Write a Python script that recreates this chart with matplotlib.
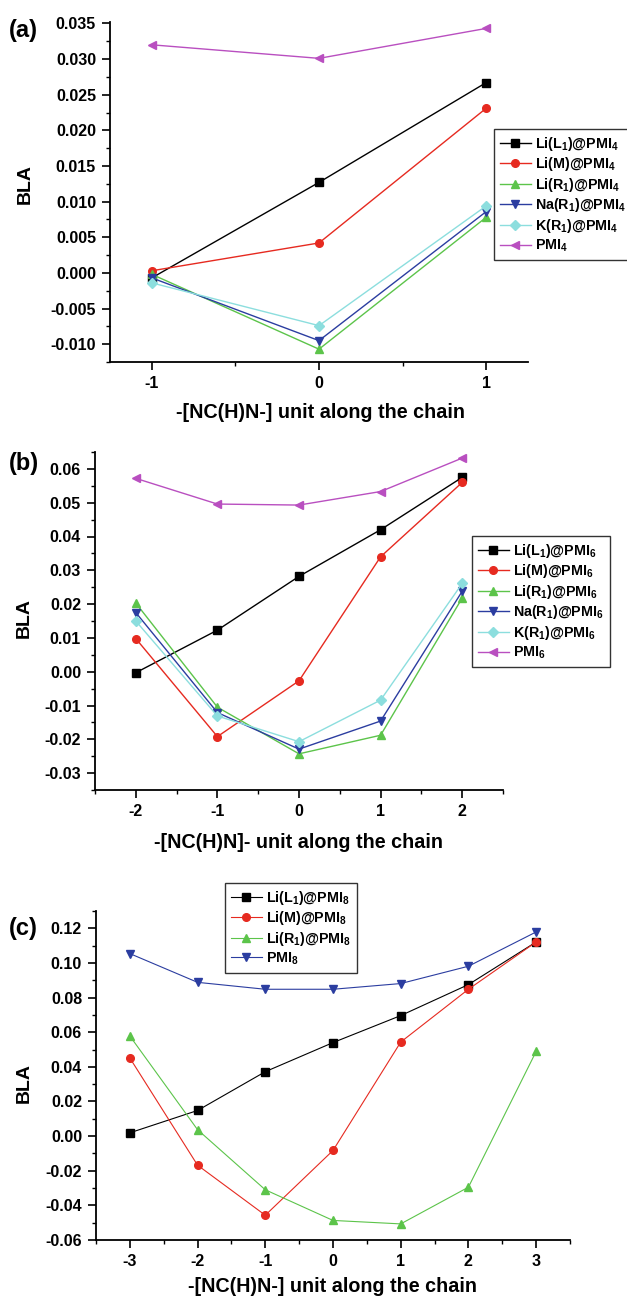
import numpy as np
import matplotlib
matplotlib.use('Agg')
import matplotlib.pyplot as plt
from matplotlib.ticker import MultipleLocator, FormatStrFormatter

plt.rcParams['font.family'] = ['Liberation Sans', 'DejaVu Sans']
plt.rcParams['font.weight'] = 'bold'
plt.rcParams['mathtext.fontset'] = 'custom'
plt.rcParams['mathtext.rm'] = 'Liberation Sans:bold'
plt.rcParams['mathtext.it'] = 'Liberation Sans:bold'
plt.rcParams['mathtext.bf'] = 'Liberation Sans:bold'

# ---- data (a) PMI4 ----
xa = [-1, 0, 1]
a_LiL1 = [-0.0007, 0.0127, 0.0267]
a_LiM = [0.0003, 0.0042, 0.0231]
a_LiR1 = [-0.0002, -0.0107, 0.0078]
a_NaR1 = [-0.0007, -0.0095, 0.0086]
a_KR1 = [-0.0014, -0.0074, 0.0094]
a_PMI = [0.0320, 0.0301, 0.0343]

# ---- data (b) PMI6 ----
xb = [-2, -1, 0, 1, 2]
b_LiL1 = [-0.0003, 0.0123, 0.0282, 0.0420, 0.0575]
b_LiM = [0.0098, -0.0192, -0.0027, 0.0340, 0.0560]
b_LiR1 = [0.0203, -0.0105, -0.0243, -0.0188, 0.0218]
b_NaR1 = [0.0175, -0.0121, -0.0229, -0.0146, 0.0238]
b_KR1 = [0.0150, -0.0131, -0.0207, -0.0084, 0.0261]
b_PMI = [0.0572, 0.0496, 0.0493, 0.0533, 0.0632]

# ---- data (c) PMI8 ----
xc = [-3, -2, -1, 0, 1, 2, 3]
c_LiL1 = [0.0019, 0.0148, 0.0372, 0.0540, 0.0696, 0.0875, 0.1121]
c_LiM = [0.0451, -0.0168, -0.0457, -0.0083, 0.0543, 0.0848, 0.1121]
c_LiR1 = [0.0578, 0.0037, -0.0310, -0.0487, -0.0507, -0.0295, 0.0489]
c_PMI = [0.1054, 0.0888, 0.0848, 0.0848, 0.0881, 0.0981, 0.1179]

BLACK = '#000000'
RED = '#e62a20'
GREEN = '#5cc44a'
BLUE = '#2b3da0'
CYAN = '#8cdede'
MAGENTA = '#b94fc0'

W, H = 627, 1299
fig = plt.figure(figsize=(W / 100, H / 100), dpi=100)


def rect(l, t, r, b):
    return [l / W, 1 - b / H, (r - l) / W, (b - t) / H]


def style(ax, xmin, xmax, ymin, ymax, ymaj, ymin_step, fmt):
    ax.set_xlim(xmin, xmax)
    ax.set_ylim(ymin, ymax)
    ax.spines['top'].set_visible(False)
    ax.spines['right'].set_visible(False)
    for s in ['left', 'bottom']:
        ax.spines[s].set_linewidth(1.3)
    ax.xaxis.set_major_locator(MultipleLocator(1))
    ax.xaxis.set_minor_locator(MultipleLocator(0.5))
    ax.yaxis.set_major_locator(MultipleLocator(ymaj))
    ax.yaxis.set_minor_locator(MultipleLocator(ymin_step))
    ax.yaxis.set_major_formatter(FormatStrFormatter(fmt))
    ax.xaxis.set_major_formatter(FormatStrFormatter('%d'))
    ax.tick_params(which='major', direction='out', length=6, width=1.2,
                   labelsize=11.5, pad=4)
    ax.tick_params(which='minor', direction='out', length=3, width=1.0)
    for lab in ax.get_xticklabels() + ax.get_yticklabels():
        lab.set_fontweight('bold')


def series(ax, x, y, color, marker, lw=1.0, ms=5.5, label=None):
    ax.plot(x, y, color=color, marker=marker, lw=lw, ms=ms,
            markeredgecolor=color, label=label, clip_on=False)


def legend(ax, x0, y0, fs=10.3):
    lg = ax.legend(loc='upper left', bbox_to_anchor=(x0 / W, 1 - y0 / H),
                   bbox_transform=fig.transFigure, frameon=True, fancybox=False,
                   edgecolor='#333333', framealpha=1, fontsize=fs,
                   handlelength=2.2, handletextpad=0.3, labelspacing=0.18,
                   borderpad=0.4, borderaxespad=0, numpoints=1)
    lg.get_frame().set_linewidth(1.0)
    for t in lg.get_texts():
        t.set_fontweight('bold')
    return lg


# ---------- (a) ----------
ax1 = fig.add_axes(rect(110, 22, 528, 362))
series(ax1, xa, a_LiL1, BLACK, 's', label=r'Li(L$_1$)@PMI$_4$')
series(ax1, xa, a_LiM, RED, 'o', label=r'Li(M)@PMI$_4$')
series(ax1, xa, a_LiR1, GREEN, '^', label=r'Li(R$_1$)@PMI$_4$')
series(ax1, xa, a_NaR1, BLUE, 'v', label=r'Na(R$_1$)@PMI$_4$')
series(ax1, xa, a_KR1, CYAN, 'D', ms=5, label=r'K(R$_1$)@PMI$_4$')
series(ax1, xa, a_PMI, MAGENTA, '<', label=r'PMI$_4$')
style(ax1, -1.25, 1.25, -0.0125, 0.0352, 0.005, 0.0025, '%.3f')
legend(ax1, 494, 129)
fig.text(320 / W, 1 - 413 / H, '-[NC(H)N-] unit along the chain',
         ha='center', va='center', fontsize=14.2, fontweight='bold')
fig.text(25 / W, 1 - 184 / H, 'BLA', rotation=90, ha='center', va='center',
         fontsize=14, fontweight='bold')
fig.text(9 / W, 1 - 30 / H, '(a)', ha='left', va='center',
         fontsize=17, fontweight='bold')

# ---------- (b) ----------
ax2 = fig.add_axes(rect(95, 452, 503, 790))
series(ax2, xb, b_LiL1, BLACK, 's', label=r'Li(L$_1$)@PMI$_6$')
series(ax2, xb, b_LiM, RED, 'o', label=r'Li(M)@PMI$_6$')
series(ax2, xb, b_LiR1, GREEN, '^', label=r'Li(R$_1$)@PMI$_6$')
series(ax2, xb, b_NaR1, BLUE, 'v', label=r'Na(R$_1$)@PMI$_6$')
series(ax2, xb, b_KR1, CYAN, 'D', ms=5, label=r'K(R$_1$)@PMI$_6$')
series(ax2, xb, b_PMI, MAGENTA, '<', label=r'PMI$_6$')
style(ax2, -2.5, 2.5, -0.035, 0.065, 0.01, 0.005, '%.2f')
legend(ax2, 472, 536)
fig.text(299 / W, 1 - 843 / H, '-[NC(H)N]- unit along the chain',
         ha='center', va='center', fontsize=14.2, fontweight='bold')
fig.text(24 / W, 1 - 618 / H, 'BLA', rotation=90, ha='center', va='center',
         fontsize=14, fontweight='bold')
fig.text(9 / W, 1 - 463 / H, '(b)', ha='left', va='center',
         fontsize=17, fontweight='bold')

# ---------- (c) ----------
ax3 = fig.add_axes(rect(96, 911, 570, 1240))
series(ax3, xc, c_LiL1, BLACK, 's', lw=0.8, label=r'Li(L$_1$)@PMI$_8$')
series(ax3, xc, c_LiM, RED, 'o', lw=0.8, label=r'Li(M)@PMI$_8$')
series(ax3, xc, c_LiR1, GREEN, '^', lw=0.8, label=r'Li(R$_1$)@PMI$_8$')
series(ax3, xc, c_PMI, BLUE, 'v', lw=0.8, label=r'PMI$_8$')
style(ax3, -3.5, 3.5, -0.06, 0.13, 0.02, 0.01, '%.2f')
legend(ax3, 225, 883)
fig.text(333 / W, 1 - 1287 / H, '-[NC(H)N-] unit along the chain',
         ha='center', va='center', fontsize=14.2, fontweight='bold')
fig.text(24 / W, 1 - 1083 / H, 'BLA', rotation=90, ha='center', va='center',
         fontsize=14, fontweight='bold')
fig.text(9 / W, 1 - 928 / H, '(c)', ha='left', va='center',
         fontsize=17, fontweight='bold')

fig.savefig('out.png', dpi=100)
